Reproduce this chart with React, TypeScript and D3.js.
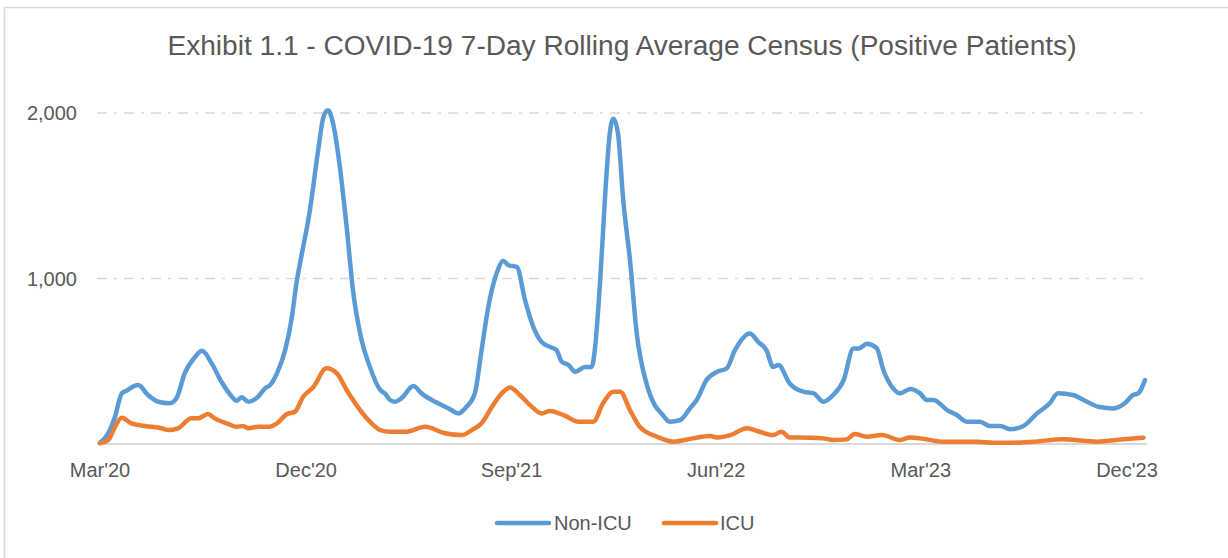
import { useEffect } from "react";
import * as d3 from "d3";

const title =
  "Exhibit 1.1 - COVID-19 7-Day Rolling Average Census (Positive Patients)";

const nonIcuDates = [
  "2020-03-01", "2020-03-12", "2020-03-21", "2020-03-30", "2020-04-05", "2020-04-21",
  "2020-05-04", "2020-05-18", "2020-06-02", "2020-06-11", "2020-06-22", "2020-07-06",
  "2020-07-15", "2020-07-28", "2020-08-10", "2020-08-24", "2020-08-30", "2020-09-06",
  "2020-09-15", "2020-09-28", "2020-10-07", "2020-10-14", "2020-10-23", "2020-11-03",
  "2020-11-12", "2020-11-18", "2020-11-24", "2020-12-06", "2020-12-17", "2020-12-24",
  "2020-12-30", "2021-01-06", "2021-01-15", "2021-01-24", "2021-02-02", "2021-02-11",
  "2021-02-24", "2021-03-10", "2021-03-16", "2021-03-23", "2021-03-30", "2021-04-07",
  "2021-04-23", "2021-05-04", "2021-05-22", "2021-06-09", "2021-06-22", "2021-07-03",
  "2021-07-14", "2021-07-23", "2021-08-01", "2021-08-12", "2021-08-21", "2021-08-28",
  "2021-09-08", "2021-09-19", "2021-09-30", "2021-10-11", "2021-10-22", "2021-10-31",
  "2021-11-07", "2021-11-16", "2021-11-25", "2021-12-08", "2021-12-17", "2021-12-21",
  "2021-12-28", "2022-01-04", "2022-01-10", "2022-01-15", "2022-01-21", "2022-01-28",
  "2022-02-06", "2022-02-15", "2022-02-28", "2022-03-11", "2022-03-20", "2022-03-31",
  "2022-04-14", "2022-04-27", "2022-05-06", "2022-05-19", "2022-06-02", "2022-06-15",
  "2022-06-26", "2022-07-16", "2022-07-27", "2022-08-07", "2022-08-16", "2022-08-23",
  "2022-09-07", "2022-09-25", "2022-10-09", "2022-10-22", "2022-11-04", "2022-11-18",
  "2022-12-01", "2022-12-08", "2022-12-19", "2023-01-01", "2023-01-10", "2023-01-23",
  "2023-02-01", "2023-02-15", "2023-02-28", "2023-03-09", "2023-03-18", "2023-04-05",
  "2023-04-18", "2023-05-01", "2023-05-19", "2023-06-01", "2023-06-15", "2023-06-28",
  "2023-07-16", "2023-08-03", "2023-08-20", "2023-08-31", "2023-09-20", "2023-10-04",
  "2023-10-24", "2023-11-13", "2023-11-28", "2023-12-09", "2023-12-16", "2023-12-25",
];
const nonIcuValues = [
  8, 65, 165, 306, 322, 356,
  296, 255, 246, 276, 427, 527,
  563, 487, 376, 286, 261, 282,
  255, 286, 336, 356, 427, 567,
  768, 970, 1120, 1412, 1774, 1975,
  2016, 1935, 1674, 1311, 909, 668,
  466, 326, 306, 266, 255, 276,
  350, 306, 255, 215, 185, 225,
  306, 567, 829, 1030, 1106, 1080,
  1070, 869, 708, 617, 587, 567,
  497, 477, 436, 466, 466, 567,
  970, 1513, 1875, 1966, 1875, 1473,
  1110, 668, 366, 235, 185, 135,
  145, 215, 266, 386, 436, 457,
  567, 668, 617, 567, 466, 477,
  366, 316, 306, 255, 296, 386,
  577, 577, 605, 580, 447, 336,
  306, 333, 306, 266, 266, 205,
  175, 135, 135, 109, 109, 89,
  109, 185, 246, 306, 296, 266,
  225, 215, 246, 296, 306, 386,
];

const icuDates = [
  "2020-03-01", "2020-03-12", "2020-03-21", "2020-03-30", "2020-04-12", "2020-04-30",
  "2020-05-22", "2020-05-31", "2020-06-13", "2020-07-01", "2020-07-10", "2020-07-23",
  "2020-08-01", "2020-08-19", "2020-08-30", "2020-09-08", "2020-09-15", "2020-09-28",
  "2020-10-12", "2020-10-23", "2020-11-05", "2020-11-16", "2020-11-27", "2020-12-11",
  "2020-12-28", "2021-01-11", "2021-01-24", "2021-02-11", "2021-02-24", "2021-03-10",
  "2021-03-23", "2021-04-12", "2021-05-09", "2021-06-04", "2021-06-27", "2021-07-10",
  "2021-07-23", "2021-08-06", "2021-08-17", "2021-08-30", "2021-09-12", "2021-09-28",
  "2021-10-11", "2021-10-22", "2021-11-11", "2021-11-29", "2021-12-19", "2022-01-01",
  "2022-01-15", "2022-01-24", "2022-02-06", "2022-02-19", "2022-03-14", "2022-04-05",
  "2022-05-01", "2022-05-24", "2022-06-02", "2022-06-20", "2022-07-12", "2022-07-29",
  "2022-08-16", "2022-08-27", "2022-09-07", "2022-09-30", "2022-10-22", "2022-11-04",
  "2022-11-22", "2022-12-03", "2022-12-19", "2023-01-08", "2023-02-01", "2023-02-15",
  "2023-02-28", "2023-03-31", "2023-05-15", "2023-06-06", "2023-07-02", "2023-07-29",
  "2023-09-07", "2023-10-04", "2023-10-22", "2023-11-26", "2023-12-23",
];
const icuValues = [
  4, 24, 104, 159, 125, 109,
  95, 84, 95, 155, 155, 181,
  155, 121, 104, 109, 95, 104,
  104, 125, 180, 195, 285, 346,
  457, 427, 326, 205, 135, 84,
  74, 74, 104, 65, 54, 84,
  125, 225, 296, 342, 296, 225,
  185, 199, 171, 135, 135, 246,
  316, 316, 205, 104, 44, 14,
  34, 48, 40, 54, 95, 74,
  54, 74, 40, 38, 34, 24,
  28, 60, 44, 54, 24, 40,
  34, 14, 14, 8, 8, 14,
  28, 20, 14, 28, 38,
];

const xTickDates = ["2020-03-01", "2020-12-01", "2021-09-01", "2022-06-01", "2023-03-01", "2023-12-01"];
const xTickLabels = ["Mar'20", "Dec'20", "Sep'21", "Jun'22", "Mar'23", "Dec'23"];
const yTicks = [1000, 2000];

const seriesNames = ["Non-ICU", "ICU"];
const seriesColors = ["#5B9BD5", "#ED7D31"];

const W = 1228;
const H = 558;
const textColor = "#595959";
const font = "'Liberation Sans', Arial, sans-serif";

export default function App() {
  useEffect(() => {
    document.body.style.margin = "0";
  }, []);

  const parse = d3.timeParse("%Y-%m-%d");
  const x = d3
    .scaleTime()
    .domain([parse("2020-03-01")!, parse("2023-12-01")!])
    .range([100, 1127]);
  const y = d3.scaleLinear().domain([0, 2000]).range([444, 113]);

  const series = [
    nonIcuDates.map((d, i) => ({ date: parse(d)!, value: nonIcuValues[i] })),
    icuDates.map((d, i) => ({ date: parse(d)!, value: icuValues[i] })),
  ];

  const line = d3
    .line<{ date: Date; value: number }>()
    .x((d) => x(d.date))
    .y((d) => y(d.value))
    .curve(d3.curveMonotoneX);

  const x0 = 97;
  const x1 = 1147;

  return (
    <svg
      width={W}
      height={H}
      viewBox={`0 0 ${W} ${H}`}
      style={{ position: "absolute", left: 0, top: 0, background: "#fff" }}
      fontFamily={font}
    >
      <rect x={4.5} y={7.5} width={W + 20} height={H + 20} fill="#fff" stroke="#d9d9d9" strokeWidth={1.5} />

      <text
        x={622}
        y={55}
        textAnchor="middle"
        fontSize={27}
        fill={textColor}
        textLength={909}
        lengthAdjust="spacingAndGlyphs"
      >
        {title}
      </text>

      {/* gridlines */}
      {yTicks.map((t) => (
        <g key={t}>
          <line
            x1={x0}
            x2={x1}
            y1={y(t)}
            y2={y(t)}
            stroke="#d9d9d9"
            strokeWidth={1.5}
            strokeDasharray="10,7,3,7"
          />
          <text x={77} y={y(t)} dy="0.35em" textAnchor="end" fontSize={20} fill={textColor}>
            {d3.format(",")(t)}
          </text>
        </g>
      ))}
      <line x1={x0} x2={x1} y1={y(0)} y2={y(0)} stroke="#d9d9d9" strokeWidth={2} />

      {xTickDates.map((d, i) => (
        <text key={d} x={x(parse(d)!)} y={477} textAnchor="middle" fontSize={20} fill={textColor}>
          {xTickLabels[i]}
        </text>
      ))}

      {/* series, ICU drawn last */}
      {series.map((s, i) => (
        <path
          key={seriesNames[i]}
          d={line(s) || ""}
          fill="none"
          stroke={seriesColors[i]}
          strokeWidth={4.5}
          strokeLinejoin="round"
          strokeLinecap="round"
        />
      ))}

      {/* legend */}
      <g>
        <line x1={497} x2={549} y1={523} y2={523} stroke={seriesColors[0]} strokeWidth={4.5} strokeLinecap="round" />
        <text x={554} y={523} dy="0.35em" fontSize={20} fill={textColor}>
          {seriesNames[0]}
        </text>
        <line x1={664} x2={716} y1={523} y2={523} stroke={seriesColors[1]} strokeWidth={4.5} strokeLinecap="round" />
        <text x={720} y={523} dy="0.35em" fontSize={20} fill={textColor}>
          {seriesNames[1]}
        </text>
      </g>
    </svg>
  );
}
